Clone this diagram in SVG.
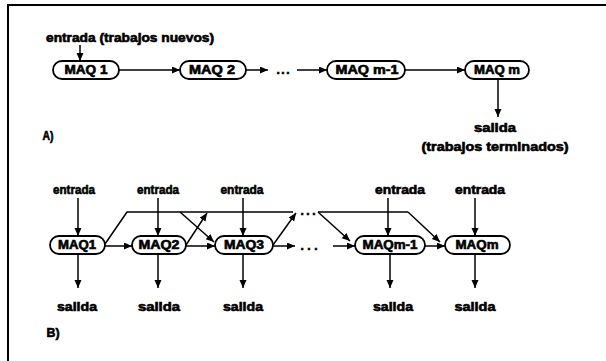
<svg xmlns="http://www.w3.org/2000/svg" width="606" height="361" viewBox="0 0 606 361">
  <style>
    text { font-family: "Liberation Sans", Arial, sans-serif; font-weight: bold; font-size: 12px; fill: #000; stroke: #000; stroke-width: 0.6; text-anchor: middle; }
    .pill { fill: #fff; stroke: #000; stroke-width: 1.8; }
    .line { fill: none; stroke: #000; stroke-width: 1.5; }
    .arrow { fill: none; stroke: #000; stroke-width: 1.5; marker-end: url(#head); }
    .frame { fill: none; stroke: #000; stroke-width: 2; }
  </style>
  <defs>
    <marker id="head" markerUnits="userSpaceOnUse" markerWidth="9" markerHeight="8" refX="8" refY="3.5" orient="auto">
      <path d="M0,0 L8,3.5 L0,7 z" fill="#000"/>
    </marker>
  </defs>
  <rect width="606" height="361" fill="#fff"/>

  <!-- page frame (left and top edges) -->
  <path class="frame" d="M8,361 V5 H606"/>

  <!-- ===== A) serial line ===== -->
  <g id="a-labels">
    <text x="130" y="42" textLength="168" lengthAdjust="spacingAndGlyphs">entrada (trabajos nuevos)</text>
    <text x="283" y="74" textLength="13" lengthAdjust="spacing">...</text>
    <text x="495" y="132" textLength="42" lengthAdjust="spacingAndGlyphs">salida</text>
    <text x="495" y="151" textLength="147" lengthAdjust="spacingAndGlyphs">(trabajos terminados)</text>
    <text x="48" y="140" textLength="11" lengthAdjust="spacingAndGlyphs">A)</text>
  </g>

  <g id="a-maq1"><rect class="pill" x="53" y="61" width="66" height="18" rx="9"/><text x="86" y="74" textLength="43" lengthAdjust="spacingAndGlyphs">MAQ 1</text></g>
  <g id="a-maq2"><rect class="pill" x="180" y="61" width="66" height="18" rx="9"/><text x="212" y="74" textLength="46" lengthAdjust="spacingAndGlyphs">MAQ 2</text></g>
  <g id="a-maqm1"><rect class="pill" x="327" y="61" width="78" height="18" rx="9"/><text x="367" y="74" textLength="63" lengthAdjust="spacingAndGlyphs">MAQ m-1</text></g>
  <g id="a-maqm"><rect class="pill" x="465" y="61" width="64" height="18" rx="9"/><text x="497" y="74" textLength="46" lengthAdjust="spacingAndGlyphs">MAQ m</text></g>

  <g id="a-connectors">
    <path class="arrow" d="M80,45 V61"/>
    <path class="arrow" d="M119,70 H180"/>
    <path class="arrow" d="M246,70 H268"/>
    <path class="arrow" d="M297,70 H327"/>
    <path class="arrow" d="M405,70 H465"/>
    <path class="arrow" d="M498,79 V117"/>
  </g>

  <!-- ===== B) line with bypass routes ===== -->
  <g id="b-labels">
    <text x="74" y="194" textLength="42" lengthAdjust="spacingAndGlyphs">entrada</text>
    <text x="158" y="194" textLength="42" lengthAdjust="spacingAndGlyphs">entrada</text>
    <text x="242" y="194" textLength="43" lengthAdjust="spacingAndGlyphs">entrada</text>
    <text x="400" y="194" textLength="50" lengthAdjust="spacingAndGlyphs">entrada</text>
    <text x="480" y="194" textLength="50" lengthAdjust="spacingAndGlyphs">entrada</text>
    <text x="77" y="311" textLength="40" lengthAdjust="spacingAndGlyphs">salida</text>
    <text x="159" y="311" textLength="42" lengthAdjust="spacingAndGlyphs">salida</text>
    <text x="243" y="311" textLength="40" lengthAdjust="spacingAndGlyphs">salida</text>
    <text x="393" y="311" textLength="40" lengthAdjust="spacingAndGlyphs">salida</text>
    <text x="475" y="311" textLength="41" lengthAdjust="spacingAndGlyphs">salida</text>
    <text x="309" y="250" textLength="17" lengthAdjust="spacing">...</text>
    <text x="308" y="215" textLength="15" lengthAdjust="spacing">...</text>
    <text x="53" y="337" textLength="13" lengthAdjust="spacingAndGlyphs">B)</text>
  </g>

  <g id="b-maq1"><rect class="pill" x="50" y="236" width="55" height="18" rx="9"/><text x="77" y="249" textLength="38" lengthAdjust="spacingAndGlyphs">MAQ1</text></g>
  <g id="b-maq2"><rect class="pill" x="132" y="236" width="54" height="18" rx="9"/><text x="159" y="249" textLength="41" lengthAdjust="spacingAndGlyphs">MAQ2</text></g>
  <g id="b-maq3"><rect class="pill" x="215" y="236" width="58" height="18" rx="9"/><text x="244" y="249" textLength="40" lengthAdjust="spacingAndGlyphs">MAQ3</text></g>
  <g id="b-maqm1"><rect class="pill" x="355" y="236" width="70" height="18" rx="9"/><text x="390" y="249" textLength="55" lengthAdjust="spacingAndGlyphs">MAQm-1</text></g>
  <g id="b-maqm"><rect class="pill" x="445" y="236" width="65" height="18" rx="9"/><text x="477" y="249" textLength="43" lengthAdjust="spacingAndGlyphs">MAQm</text></g>

  <g id="b-connectors">
    <!-- inputs -->
    <path class="arrow" d="M78,198 V236"/>
    <path class="arrow" d="M158,198 V236"/>
    <path class="arrow" d="M243,198 V236"/>
    <path class="arrow" d="M388,198 V236"/>
    <path class="arrow" d="M475,198 V236"/>
    <!-- outputs -->
    <path class="arrow" d="M78,254 V288"/>
    <path class="arrow" d="M158,254 V288"/>
    <path class="arrow" d="M243,254 V288"/>
    <path class="arrow" d="M390,254 V288"/>
    <path class="arrow" d="M475,254 V288"/>
    <!-- machine to next machine -->
    <path class="arrow" d="M105,246 H132"/>
    <path class="arrow" d="M186,246 H215"/>
    <path class="arrow" d="M273,246 H295"/>
    <path class="arrow" d="M333,246 H355"/>
    <path class="arrow" d="M425,246 H445"/>
    <!-- bypass bus -->
    <path class="line" d="M105,244 L127,212 H293"/>
    <path class="arrow" d="M186,245 L207,213"/>
    <path class="arrow" d="M180,212 L214,242"/>
    <path class="arrow" d="M273,245 L296,213"/>
    <path class="line" d="M318,212 H408"/>
    <path class="arrow" d="M318,212 L350,241"/>
    <path class="arrow" d="M408,212 L440,242"/>
  </g>
</svg>
